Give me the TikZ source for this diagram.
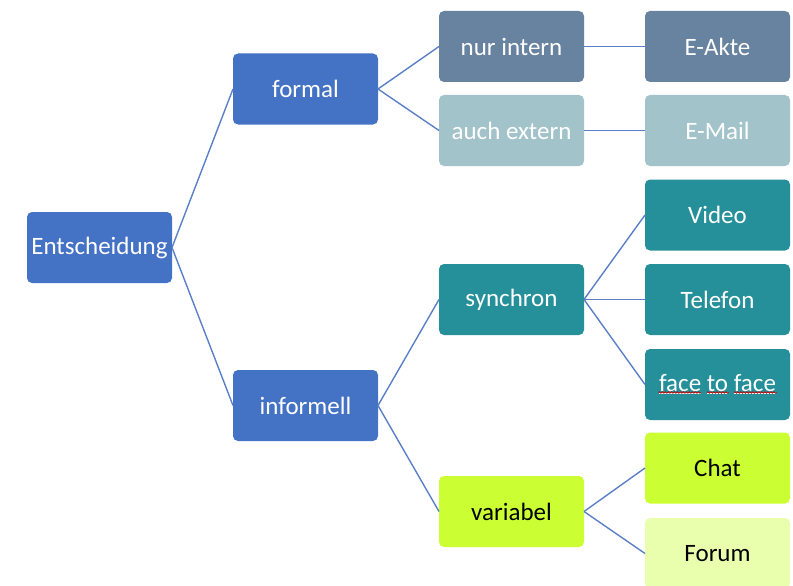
\documentclass[tikz,border=0pt]{standalone}
\usepackage{fontspec}
\setmainfont{Carlito}
\usepackage{tikz}
\usetikzlibrary{calc,decorations.pathmorphing}

\definecolor{boxblue}{HTML}{4472C4}
\definecolor{boxslate}{HTML}{6783A0}
\definecolor{boxpale}{HTML}{A2C3CA}
\definecolor{boxteal}{HTML}{25909A}
\definecolor{boxlime}{HTML}{CCFF33}
\definecolor{boxlight}{HTML}{EAFFAD}
\definecolor{linkblue}{HTML}{5B7FC7}

\begin{document}
\begin{tikzpicture}[x=1pt,y=-1pt]

  %Styles for picture
  \tikzset
  {
  box/.style={rectangle, rounded corners=5pt, inner sep=0pt, outer sep=0pt, minimum width=145pt, minimum height=71pt, text=white, font=\fontsize{25}{30}\selectfont},
  bluebox/.style={box, fill=boxblue},
  slatebox/.style={box, fill=boxslate},
  palebox/.style={box, fill=boxpale},
  tealbox/.style={box, fill=boxteal},
  limebox/.style={box, fill=boxlime, text=black},
  lightbox/.style={box, fill=boxlight, text=black},
  link/.style={draw=linkblue, line width=1.4pt},
  squiggle/.style={draw=red!80!black, line width=0.7pt, decorate, decoration={snake, amplitude=0.8pt, segment length=3pt}},
  }

  \useasboundingbox (0,0) rectangle (793,586);

  %Nodes
  \node[bluebox] (ent) at (99.5,247.5) {Entscheidung};
  \node[bluebox] (formal) at (305.5,89) {formal};
  \node[bluebox] (informell) at (305.5,405.5) {informell};
  \node[slatebox] (intern) at (511.5,46.5) {nur intern};
  \node[palebox] (extern) at (511.5,130.5) {auch extern};
  \node[slatebox] (akte) at (717.5,46.5) {E-Akte};
  \node[palebox] (mail) at (717.5,130.5) {E-Mail};
  \node[tealbox] (synchron) at (511.5,299.5) {synchron};
  \node[limebox] (variabel) at (511.5,511.5) {variabel};
  \node[tealbox] (video) at (717.5,215) {Video};
  \node[tealbox] (telefon) at (717.5,299.5) {Telefon};
  \node[tealbox] (ftf) at (717.5,384.5) {\underline{face} \underline{to} \underline{face}};
  \node[limebox] (chat) at (717.5,468) {Chat};
  \node[lightbox] (forum) at (717.5,553.5) {Forum};

  %Spell check marks
  \draw[squiggle] ($(ftf.center)+(-59,8)$) -- ($(ftf.center)+(-16.5,8)$);
  \draw[squiggle] ($(ftf.center)+(-10.5,8)$) -- ($(ftf.center)+(11,8)$);
  \draw[squiggle] ($(ftf.center)+(16.5,8)$) -- ($(ftf.center)+(59,8)$);

  %Edges
  \draw[link] (ent.east) -- (formal.west);
  \draw[link] (ent.east) -- (informell.west);
  \draw[link] (formal.east) -- (intern.west);
  \draw[link] (formal.east) -- (extern.west);
  \draw[link] (intern.east) -- (akte.west);
  \draw[link] (extern.east) -- (mail.west);
  \draw[link] (informell.east) -- (synchron.west);
  \draw[link] (informell.east) -- (variabel.west);
  \draw[link] (synchron.east) -- (video.west);
  \draw[link] (synchron.east) -- (telefon.west);
  \draw[link] (synchron.east) -- (ftf.west);
  \draw[link] (variabel.east) -- (chat.west);
  \draw[link] (variabel.east) -- (forum.west);
\end{tikzpicture}
\end{document}
